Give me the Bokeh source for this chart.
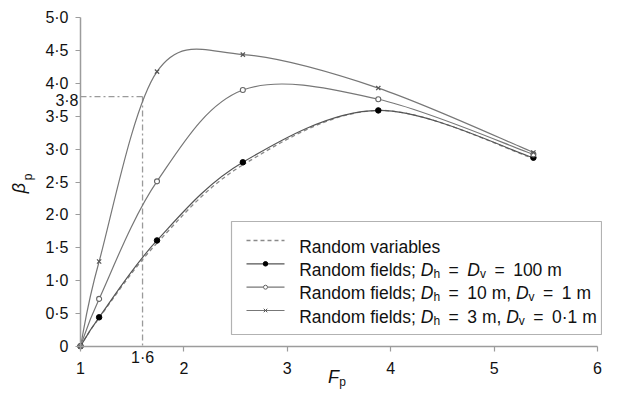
import math
from bokeh.plotting import figure
from bokeh.models import Range1d, FixedTicker, Label, BoxAnnotation, LinearAxis
from bokeh.embed import file_html
from bokeh.resources import INLINE

# ---------------- data ----------------
fp = [1.0, 1.18, 1.74, 2.57, 3.88, 5.38]
beta_rv = [0.0, 0.43, 1.57, 2.76, 3.59, 2.86]
beta_100 = [0.0, 0.44, 1.61, 2.80, 3.59, 2.87]
beta_10_1 = [0.0, 0.72, 2.51, 3.90, 3.76, 2.92]
beta_3_01 = [0.0, 1.29, 4.18, 4.44, 3.93, 2.95]

guide_fp = 1.6
guide_beta = 3.8

x_ticks = [1, 2, 3, 4, 5, 6]
x_tick_labels = ["1", "2", "3", "4", "5", "6"]
y_ticks = [0.0, 0.5, 1.0, 1.5, 2.0, 2.5, 3.0, 3.5, 4.0, 4.5, 5.0]
y_tick_labels = ["0", "0·5", "1·0", "1·5", "2·0", "2·5", "3·0", "3·5", "4·0", "4·5", "5·0"]

# ---------------- layout (pixel geometry of the canvas) ----------------
W, H = 602, 390
X_AT1, X_AT6 = 80.0, 597.0       # pixel columns of F=1 and F=6
Y_AT0, Y_AT5 = 345.7, 17.3       # pixel rows of beta=0 and beta=5
SX = (X_AT6 - X_AT1) / 5.0
SY = (Y_AT0 - Y_AT5) / 5.0
FONT = "Liberation Sans"


def dx(px):
    return 1.0 + (px - X_AT1) / SX


def dy(py):
    return (Y_AT0 - py) / SY


p = figure(width=W, height=H, output_backend="svg", toolbar_location=None,
           x_range=Range1d(dx(0), dx(W)), y_range=Range1d(dy(H), dy(0)),
           min_border_left=0, min_border_right=0, min_border_top=0, min_border_bottom=0,
           x_axis_location=None, y_axis_location=None)
p.outline_line_color = None
p.grid.visible = False
p.background_fill_color = "white"
p.border_fill_color = "white"

xax = LinearAxis(fixed_location=0.0, bounds=(1, 6))
yax = LinearAxis(fixed_location=1.0, bounds=(0, 5))
for ax in (xax, yax):
    ax.axis_line_color = "#9c9c9c"
    ax.axis_line_width = 1.5
    ax.major_tick_line_color = "#9c9c9c"
    ax.major_tick_line_width = 1.2
    ax.major_tick_in = 0
    ax.major_tick_out = 5
    ax.minor_tick_line_color = None
    ax.major_label_text_font = FONT
    ax.major_label_text_font_size = "16px"
    ax.major_label_text_color = "#111111"

xax.ticker = FixedTicker(ticks=x_ticks)
xax.major_label_overrides = {float(t): s for t, s in zip(x_ticks, x_tick_labels)}
xax.major_label_standoff = 11
yax.ticker = FixedTicker(ticks=y_ticks)
yax.major_label_overrides = {float(t): s for t, s in zip(y_ticks, y_tick_labels)}
yax.major_label_standoff = 7
p.add_layout(xax, "below")
p.add_layout(yax, "left")


def smooth(xs, ys):
    n = len(xs)
    tx, ty = [], []
    for i in range(n):
        a = max(i - 1, 0)
        b = min(i + 1, n - 1)
        tx.append((xs[b] - xs[a]) / 2.0)
        ty.append((ys[b] - ys[a]) / 2.0)
    seg = dict(x0=[], y0=[], x1=[], y1=[], cx0=[], cy0=[], cx1=[], cy1=[])
    for i in range(n - 1):
        seg["x0"].append(xs[i]); seg["y0"].append(ys[i])
        seg["x1"].append(xs[i + 1]); seg["y1"].append(ys[i + 1])
        seg["cx0"].append(xs[i] + tx[i] / 3.0); seg["cy0"].append(ys[i] + ty[i] / 3.0)
        seg["cx1"].append(xs[i + 1] - tx[i + 1] / 3.0); seg["cy1"].append(ys[i + 1] - ty[i + 1] / 3.0)
    return seg


# guide lines
p.line([1.0, guide_fp], [guide_beta, guide_beta], line_color="#9a9a9a", line_width=1.3, line_dash="6 3 2 3")
p.line([guide_fp, guide_fp], [guide_beta, 0.0], line_color="#9a9a9a", line_width=1.3, line_dash="6 3 2 3")

# curves
p.bezier(**smooth(fp, beta_rv), line_color="#8a8a8a", line_width=1.3, line_dash="4 3")
p.bezier(**smooth(fp, beta_100), line_color="#555555", line_width=1.2)
p.bezier(**smooth(fp, beta_10_1), line_color="#777777", line_width=1.2)
p.bezier(**smooth(fp, beta_3_01), line_color="#777777", line_width=1.2)

p.scatter(fp, beta_100, marker="circle", size=5.5, fill_color="black", line_color="black")
p.scatter(fp, beta_10_1, marker="circle", size=5, fill_color="white", line_color="#666666", line_width=1.1)
p.scatter(fp, beta_3_01, marker="x", size=6, line_color="#555555", line_width=1.2)

# extra guide tick labels
p.add_layout(Label(x=dx(78), y=dy(99.7), text="3·8", text_font=FONT, text_font_size="16px",
                   text_align="right", text_baseline="middle", text_color="#111111"))
p.add_layout(Label(x=guide_fp, y=dy(356.5), text="1·6", text_font=FONT, text_font_size="16px",
                   text_align="center", text_baseline="middle", text_color="#111111"))

# axis titles
p.add_layout(Label(x=dx(18), y=dy(187.5), text="β", angle=math.pi / 2, text_font=FONT,
                   text_font_size="18px", text_font_style="italic", text_align="center",
                   text_baseline="middle", text_color="#111111"))
p.add_layout(Label(x=dx(27), y=dy(176.5), text="p", angle=math.pi / 2, text_font=FONT,
                   text_font_size="12px", text_align="center",
                   text_baseline="middle", text_color="#111111"))
p.add_layout(Label(x=dx(333), y=dy(376), text="F", text_font=FONT,
                   text_font_size="18px", text_font_style="italic", text_align="center",
                   text_baseline="middle", text_color="#111111"))
p.add_layout(Label(x=dx(342), y=dy(381), text="p", text_font=FONT,
                   text_font_size="12px", text_align="center",
                   text_baseline="middle", text_color="#111111"))

# ---------------- legend (manual) ----------------
p.add_layout(BoxAnnotation(left=dx(231), right=dx(601), top=dy(221), bottom=dy(334),
                           fill_color=None, line_color="black", line_width=1.2))

rows_y = [240, 263.3, 286.7, 310]
gx0, gx1 = 246, 284
gxm = (gx0 + gx1) / 2
p.line([dx(gx0), dx(gx1)], [dy(rows_y[0])] * 2, line_color="#8a8a8a", line_width=1.3, line_dash="4 3")
p.line([dx(gx0), dx(gx1)], [dy(rows_y[1])] * 2, line_color="#555555", line_width=1.2)
p.scatter([dx(gxm)], [dy(rows_y[1])], marker="circle", size=4.5, fill_color="black", line_color="black")
p.line([dx(gx0), dx(gx1)], [dy(rows_y[2])] * 2, line_color="#777777", line_width=1.2)
p.scatter([dx(gxm)], [dy(rows_y[2])], marker="circle", size=4, fill_color="white", line_color="#666666")
p.line([dx(gx0), dx(gx1)], [dy(rows_y[3])] * 2, line_color="#777777", line_width=1.2)
p.scatter([dx(gxm)], [dy(rows_y[3])], marker="x", size=5, line_color="#555555")

WID = {' ': 278, 'R': 722, 'a': 556, 'n': 556, 'd': 556, 'o': 556, 'm': 833, 'f': 278,
       'i': 222, 'e': 556, 'l': 222, 's': 500, ';': 278, 'v': 500, 'r': 333, 'b': 556,
       'D': 722, 'h': 556, '=': 584, '·': 278, ',': 278}


def twidth(s, size):
    return sum(WID.get(c, 556) for c in s) * size / 1000.0


FS, SS, GAP = 17.5, 12, 8.5
TX = 298.7


def legend_row(py, parts):
    x = TX
    base = py + 6
    for kind, txt in parts:
        if kind == "gap":
            x += GAP
            continue
        size = SS if kind == "sub" else FS
        yy = base + 4 if kind == "sub" else base
        style = "italic" if kind == "it" else "normal"
        p.add_layout(Label(x=dx(x), y=dy(yy), text=txt, text_font=FONT,
                           text_font_size=f"{size}px", text_font_style=style,
                           text_align="left", text_baseline="alphabetic", text_color="#111111"))
        x += twidth(txt, size)


legend_row(rows_y[0], [("n", "Random variables")])
legend_row(rows_y[1], [("n", "Random fields; "), ("it", "D"), ("sub", "h"), ("gap", ""), ("n", "="),
                       ("gap", ""), ("it", "D"), ("sub", "v"), ("gap", ""), ("n", "="), ("gap", ""),
                       ("n", "100 m")])
legend_row(rows_y[2], [("n", "Random fields; "), ("it", "D"), ("sub", "h"), ("gap", ""), ("n", "="),
                       ("gap", ""), ("n", "10 m, "), ("it", "D"), ("sub", "v"), ("gap", ""), ("n", "="),
                       ("gap", ""), ("n", "1 m")])
legend_row(rows_y[3], [("n", "Random fields; "), ("it", "D"), ("sub", "h"), ("gap", ""), ("n", "="),
                       ("gap", ""), ("n", "3 m, "), ("it", "D"), ("sub", "v"), ("gap", ""), ("n", "="),
                       ("gap", ""), ("n", "0·1 m")])

open("out.html", "w").write(file_html(p, INLINE))
